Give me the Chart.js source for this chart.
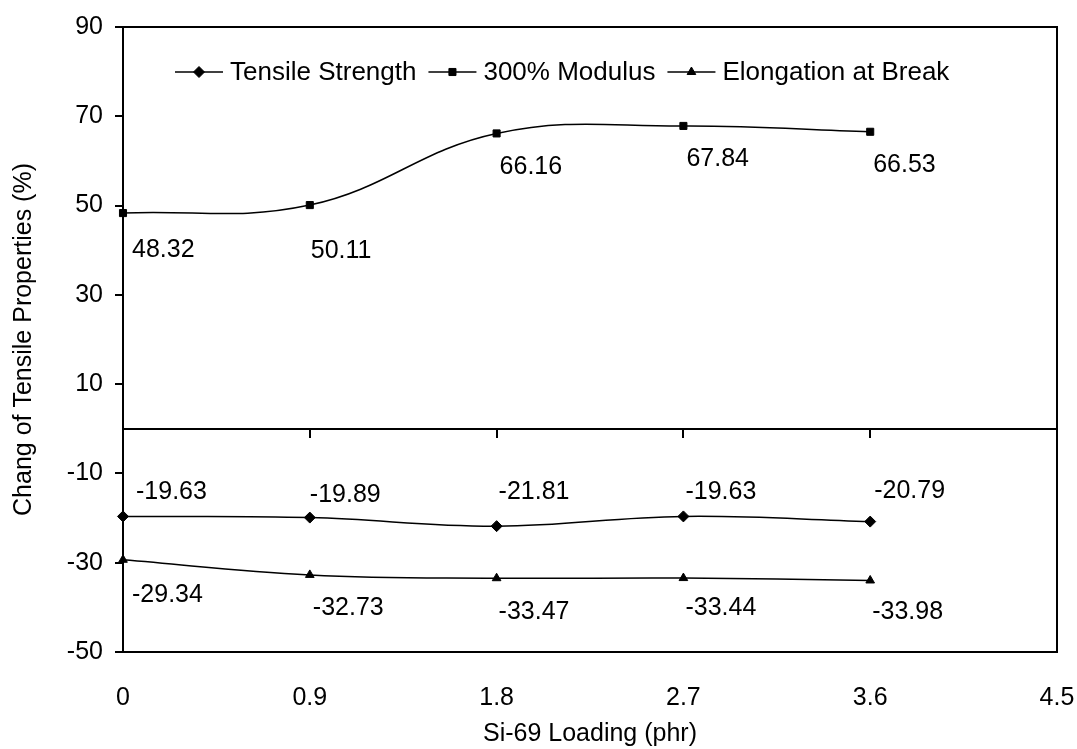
<!DOCTYPE html>
<html>
<head>
<meta charset="utf-8">
<title>Si-69 Loading vs. Change of Tensile Properties</title>
<script src="https://cdn.jsdelivr.net/npm/chart.js@4/dist/chart.umd.min.js"></script>
<style>
  html, body { margin: 0; padding: 0; background: #ffffff; }
  #wrap { width: 1077px; height: 749px; }
</style>
</head>
<body>
<div id="wrap"><canvas id="chart" width="1077" height="749"></canvas></div>
<script>
// Si-69 loading (phr)
const loading = [0, 0.9, 1.8, 2.7, 3.6];

// Change of tensile properties (%)
const tensileStrength = [-19.63, -19.89, -21.81, -19.63, -20.79];
const modulus300 = [48.32, 50.11, 66.16, 67.84, 66.53];
const elongationAtBreak = [-29.34, -32.73, -33.47, -33.44, -33.98];

const seriesNames = ['Tensile Strength', '300% Modulus', 'Elongation at Break'];

// axis ranges and tick steps
const xMin = 0, xMax = 4.5, xStep = 0.9;
const yMin = -50, yMax = 90, yStep = 20;

const FONT = '"Liberation Sans", Arial, Helvetica, sans-serif';
const FS = 25;
const LEGEND_FS = 26;
const INK = '#000000';

// where each value label sits relative to its marker: [dx to left edge, dy to text centre]
const labelShift = [
  [[13, -24], [0, -22], [2, -34], [2, -24], [4, -30]],
  [[9, 37], [1, 46], [3, 34], [3, 33], [3, 33]],
  [[9, 35], [3, 33], [2, 34], [2, 30], [2, 32]]
];

const toPoints = (vals) => loading.map((x, i) => ({ x: x, y: vals[i] }));

function drawMarker(ctx, style, x, y, r) {
  if (Chart.helpers && Chart.helpers.drawPoint) {
    Chart.helpers.drawPoint(ctx, { pointStyle: style, radius: r, rotation: 0, borderWidth: 1 }, x, y);
    return;
  }
  ctx.beginPath();
  const s = r * Math.SQRT1_2;
  if (style === 'rect') {
    ctx.rect(x - s, y - s, 2 * s, 2 * s);
  } else if (style === 'rectRot') {
    ctx.moveTo(x - s, y); ctx.lineTo(x, y + s); ctx.lineTo(x + s, y); ctx.lineTo(x, y - s);
  } else {
    const w = r * Math.sqrt(3) / 2;
    ctx.moveTo(x, y - r); ctx.lineTo(x + w, y + r / 2); ctx.lineTo(x - w, y + r / 2);
  }
  ctx.closePath();
  ctx.fill();
  ctx.stroke();
}

// full box around the plot area
const frame = {
  id: 'frame',
  afterDraw(chart) {
    const { ctx, chartArea: a } = chart;
    ctx.save();
    ctx.strokeStyle = INK;
    ctx.lineWidth = 2;
    ctx.strokeRect(a.left, a.top, a.right - a.left, a.bottom - a.top);
    ctx.restore();
  }
};

// legend row drawn inside the plot area
const insideLegend = {
  id: 'insideLegend',
  afterDatasetsDraw(chart) {
    const ctx = chart.ctx;
    const y = chart.chartArea.top + 45;
    let x = chart.chartArea.left + 52;
    ctx.save();
    ctx.font = LEGEND_FS + 'px ' + FONT;
    ctx.textBaseline = 'middle';
    ctx.textAlign = 'left';
    chart.data.datasets.forEach((ds) => {
      ctx.strokeStyle = INK;
      ctx.fillStyle = INK;
      ctx.lineWidth = 1.5;
      ctx.beginPath();
      ctx.moveTo(x, y);
      ctx.lineTo(x + 48, y);
      ctx.stroke();
      ctx.lineWidth = 1;
      drawMarker(ctx, ds.pointStyle, x + 24, y, ds.pointRadius);
      ctx.fillStyle = INK;
      ctx.fillText(ds.label, x + 55, y + 1);
      x += 55 + ctx.measureText(ds.label).width + 12;
    });
    ctx.restore();
  }
};

// value labels next to each marker
const valueLabels = {
  id: 'valueLabels',
  afterDatasetsDraw(chart) {
    const ctx = chart.ctx;
    ctx.save();
    ctx.font = FS + 'px ' + FONT;
    ctx.fillStyle = INK;
    ctx.textAlign = 'left';
    ctx.textBaseline = 'middle';
    chart.data.datasets.forEach((ds, di) => {
      const meta = chart.getDatasetMeta(di);
      meta.data.forEach((pt, i) => {
        const [dx, dy] = labelShift[di][i];
        ctx.fillText(ds.data[i].y.toFixed(2), pt.x + dx, pt.y + dy);
      });
    });
    ctx.restore();
  }
};

const lineStyle = {
  borderColor: INK,
  backgroundColor: INK,
  borderWidth: 1.5,
  pointRadius: 5,
  pointHoverRadius: 5,
  pointBorderWidth: 1,
  tension: 0.4,
  fill: false,
  clip: false
};

new Chart(document.getElementById('chart'), {
  type: 'line',
  data: {
    datasets: [
      Object.assign({ label: seriesNames[0], data: toPoints(tensileStrength), pointStyle: 'rectRot' }, lineStyle, { pointRadius: 5.5 }),
      Object.assign({ label: seriesNames[1], data: toPoints(modulus300), pointStyle: 'rect' }, lineStyle),
      Object.assign({ label: seriesNames[2], data: toPoints(elongationAtBreak), pointStyle: 'triangle' }, lineStyle)
    ]
  },
  options: {
    responsive: false,
    animation: false,
    events: [],
    layout: { padding: { left: 0, right: 0, top: 27, bottom: 0 } },
    plugins: {
      legend: { display: false },
      tooltip: { enabled: false }
    },
    scales: {
      x: {
        type: 'linear',
        position: 'bottom',
        min: xMin, max: xMax,
        grid: { display: false },
        border: { display: true, color: INK, width: 2 },
        ticks: { stepSize: xStep, color: INK, padding: 23, maxRotation: 0, font: { family: FONT, size: FS } },
        title: { display: true, text: 'Si-69 Loading (phr)', color: INK, padding: { top: 0, bottom: 0 }, font: { family: FONT, size: FS } },
        afterFit(s) {
          s.height = 97;
          s.paddingLeft = 0;
          s.paddingRight = 20;
        }
      },
      xZero: {
        type: 'linear',
        axis: 'x',
        position: { y: 0 },
        min: xMin, max: xMax,
        grid: { drawOnChartArea: false, drawTicks: true, tickLength: 8, color: INK, lineWidth: 2 },
        border: { display: true, color: INK, width: 2 },
        ticks: { display: false, stepSize: xStep }
      },
      y: {
        type: 'linear',
        position: 'left',
        min: yMin, max: yMax,
        grid: { drawOnChartArea: false, drawTicks: true, tickLength: 8, color: INK, lineWidth: 2 },
        border: { display: true, color: INK, width: 2 },
        ticks: { stepSize: yStep, color: INK, padding: 12, font: { family: FONT, size: FS } },
        title: { display: true, text: 'Chang of Tensile Properties (%)', color: INK, padding: { top: 9, bottom: 0 }, font: { family: FONT, size: FS } },
        afterFit(s) { s.width = 123; }
      }
    }
  },
  plugins: [frame, valueLabels, insideLegend]
});
</script>
</body>
</html>
